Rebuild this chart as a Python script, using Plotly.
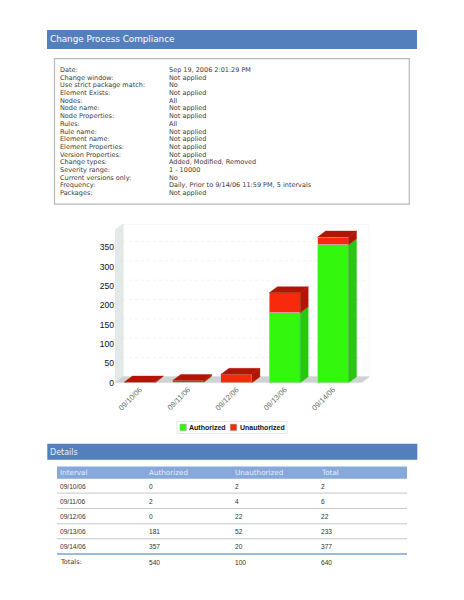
import plotly.graph_objects as go

W, H = 464, 600
intervals = ["09/10/06", "09/11/06", "09/12/06", "09/13/06", "09/14/06"]
authorized = [0, 2, 0, 181, 357]
unauthorized = [2, 4, 22, 52, 20]
totals = [2, 6, 22, 233, 377]
y_ticks = [0, 50, 100, 150, 200, 250, 300, 350]
report_labels = ["Date:", "Change window:", "Use strict package match:", "Element Exists:", "Nodes:",
                 "Node name:", "Node Properties:", "Rules:", "Rule name:", "Element name:",
                 "Element Properties:", "Version Properties:", "Change types:", "Severity range:",
                 "Current versions only:", "Frequency:", "Packages:"]
report_values = ["Sep 19, 2006 2:01:29 PM", "Not applied", "No", "Not applied", "All",
                 "Not applied", "Not applied", "All", "Not applied", "Not applied",
                 "Not applied", "Not applied", "Added, Modified, Removed", "1 - 10000",
                 "No", "Daily, Prior to 9/14/06 11:59 PM, 5 intervals", "Not applied"]
table_headers = ["Interval", "Authorized", "Unauthorized", "Total"]
sum_row = ["Totals:", "540", "100", "640"]

FONT = "DejaVu Sans"
CHART_FONT = "Liberation Sans"
BLUE = "#5380bd"
VSCALE = 1.008
def px(x): return x / W
def py(y): return 1 - y * VSCALE / H

shapes, notes = [], []
def rect(x0, y0, x1, y1, fill=None, line=None, lw=0, layer="below"):
    shapes.append(dict(type="rect", xref="paper", yref="paper", x0=px(x0), x1=px(x1), y0=py(y0), y1=py(y1),
                       fillcolor=fill or "rgba(0,0,0,0)", line=dict(color=line or "rgba(0,0,0,0)", width=lw), layer=layer))
def hline(x0, x1, y, color, lw):
    shapes.append(dict(type="line", xref="paper", yref="paper", x0=px(x0), x1=px(x1), y0=py(y), y1=py(y),
                       line=dict(color=color, width=lw), layer="below"))
def text(x, y, s, size=6.5, color="#3a3a3a", family=FONT, weight="normal"):
    notes.append(dict(xref="paper", yref="paper", x=px(x), y=py(y), text=s, showarrow=False, xanchor="left",
                      yanchor="middle", borderpad=0, font=dict(family=family, size=size, color=color, weight=weight)))

# page furniture
rect(47, 30, 417, 49, BLUE)
text(49, 39.5, "Change Process Compliance", 8.8, "#ffffff")
rect(54.5, 58.7, 409.3, 204.3, "#ffffff", "#b4bab4", 1.2)
for i, (a, b) in enumerate(zip(report_labels, report_values)):
    yy = 70 + i * 7.7
    text(59.3, yy, a)
    text(168.3, yy, b)

rect(47.3, 444, 417.3, 460, BLUE)
text(49, 452.3, "Details", 8, "#e8eef8")
rect(57, 466.7, 407, 479, "#86a8da")
cols = [59.3, 148, 234, 320]
for x, h in zip(cols, table_headers):
    text(x, 473, h, 7.2, "#e8eef8")
row_y = [486.3, 501.3, 516.5, 531.7, 546.7]
line_y = [493.3, 508.7, 524, 539]
for ly in line_y:
    hline(57, 407, ly, "#c8c8c8", 1)
hline(57, 407, 554.3, "#7fa0d8", 1.5)
for yy, r in zip(row_y, zip(intervals, authorized, unauthorized, totals)):
    for x, v in zip(cols, r):
        text(x, yy, str(v), 6.6, "#333333", CHART_FONT)
for j, (x, v) in enumerate(zip(cols, sum_row)):
    if j == 0:
        text(x, 562.7, v)
    else:
        text(x, 562.7, v, 6.6, "#333333", CHART_FONT)

# plot geometry
X0, X1, Y0, Y1 = 115.0, 369.3, 224.0, 383.0
xr = (-0.514, 4.75)
yr = (0, 411)
DX = 8 / 48.3          # depth in category units
DY = 6 / 0.3867        # depth in value units
BW = 0.64

def poly(xs, ys):
    pts = list(zip(xs, ys))
    return "M" + " L".join(f"{a},{b}" for a, b in pts) + " Z"
def dshape(xs, ys, fill, line=None):
    shapes.append(dict(type="path", xref="x", yref="y", path=poly(xs, ys), fillcolor=fill,
                       line=dict(color=line or fill, width=0.6), layer="below"))

xl, xrr = xr
ytop = yr[1]
# back wall, side wall, floor
dshape([xl + DX, xrr, xrr, xl + DX], [DY, DY, ytop, ytop], "#ffffff", "#dfe5e3")
dshape([xl, xl + DX, xl + DX, xl], [0, DY, ytop, ytop - DY], "#e3e8e8", "#dfe5e3")
dshape([xl, xrr - DX, xrr, xl + DX], [0, 0, DY, DY], "#ced2d2")
for t in y_ticks[1:]:
    shapes.append(dict(type="line", xref="x", yref="y", x0=xl + DX, x1=xrr, y0=t + DY, y1=t + DY,
                       line=dict(color="#efefef", width=0.7, dash="dot"), layer="below"))

fig = go.Figure()
idx = list(range(len(intervals)))
GREEN, GREEN_D, RED, RED_D = "#33f80e", "#27c80f", "#f92a0c", "#b31505"
fig.add_trace(go.Bar(x=idx, y=authorized, name="Authorized", width=BW, showlegend=False,
                     marker=dict(color=GREEN, line=dict(color="#c8c8c8", width=0.7))))
fig.add_trace(go.Bar(x=idx, y=unauthorized, name="Unauthorized", width=BW, showlegend=False,
                     marker=dict(color=RED, line=dict(color="#c8c8c8", width=0.7))))

def face(xs, ys, color):
    fig.add_trace(go.Scatter(x=xs, y=ys, mode="lines", fill="toself", fillcolor=color,
                             line=dict(color=color, width=0.4), showlegend=False, hoverinfo="skip"))
for i, a, u in zip(idx, authorized, unauthorized):
    r = i + BW / 2
    l = i - BW / 2
    if a > 0:
        face([r, r + DX, r + DX, r, r], [0, DY, a + DY, a, 0], GREEN_D)
    face([r, r + DX, r + DX, r, r], [a, a + DY, a + u + DY, a + u, a], RED_D)
    t = a + u
    face([l, r, r + DX, l + DX, l], [t, t, t + DY, t + DY, t], RED_D)

# legend
rect(177, 421.7, 287, 433.7, "#ffffff", "#e4e8e8", 1)
rect(180, 424.3, 186.3, 430.7, GREEN, "#999999", 0.5)
text(188.3, 427.7, "Authorized", 7, "#111111", CHART_FONT, "bold")
rect(230.3, 424.3, 236.7, 430.7, RED, "#999999", 0.5)
text(239, 427.7, "Unauthorized", 7, "#111111", CHART_FONT, "bold")

fig.update_layout(
    width=W, height=H, autosize=False, margin=dict(l=0, r=0, t=0, b=0),
    paper_bgcolor="#ffffff", plot_bgcolor="rgba(0,0,0,0)", barmode="stack", bargap=0.36,
    shapes=shapes, annotations=notes, hovermode=False, showlegend=False,
    font=dict(family=CHART_FONT),
    xaxis=dict(domain=[px(X0), px(X1)], range=list(xr), tickmode="array", tickvals=idx, ticktext=intervals,
               tickangle=-45, showgrid=False, zeroline=False, showline=False, ticklen=0,
               tickfont=dict(family=CHART_FONT, size=7.5, color="#5f6f66")),
    yaxis=dict(domain=[py(Y1), py(Y0)], range=list(yr), tickmode="array", tickvals=y_ticks,
               showgrid=False, zeroline=False, showline=False, ticklen=8, tickcolor="rgba(0,0,0,0)",
               tickfont=dict(family=CHART_FONT, size=8.5, color="#111111")),
)
fig.write_html("out.html",
               post_script="document.documentElement.style.margin='0';document.documentElement.style.overflow='hidden';"
                           "document.documentElement.style.height='600px';document.body.style.margin='0';"
                           "document.body.style.height='600px';document.body.style.overflow='hidden';",
               config={"displayModeBar": False})
